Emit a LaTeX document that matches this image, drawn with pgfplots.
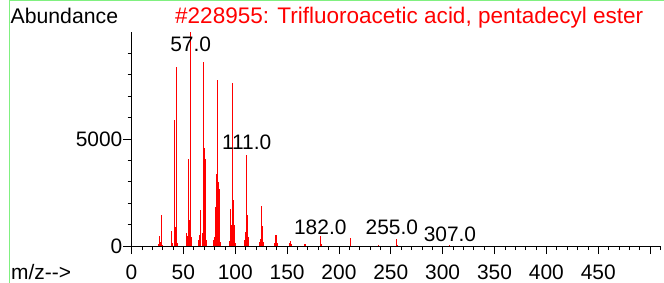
\documentclass[border=0pt]{standalone}
\usepackage{fontspec}
\setmainfont{Liberation Sans}
\usepackage{pgfplots}
\pgfplotsset{compat=1.18}
\definecolor{framegreen}{RGB}{128,240,128}
\definecolor{peakred}{RGB}{255,0,0}
\newcommand{\lblfont}{\fontsize{21}{25}\selectfont}
\begin{document}
\begin{tikzpicture}
\useasboundingbox (0,0) rectangle (664bp,283bp);
\draw[framegreen, line width=1.5bp] (9.5bp,0bp) -- (9.5bp,282.3bp) -- (664bp,282.3bp);
\node[anchor=base west, inner sep=0pt, font=\fontsize{21.3}{25}\selectfont] at (10.5bp,259bp) {Abundance};
\node[anchor=base west, inner sep=0pt, font=\fontsize{22.6}{26}\selectfont, text=peakred] at (175bp,259bp) {\#228955: Trifluoroacetic acid, pentadecyl ester};
\node[anchor=base west, inner sep=0pt, font=\lblfont] at (11bp,4bp) {m/z-{}-{}>};
\begin{axis}[
  at={(131.5bp,37bp)}, anchor=south west,
  scale only axis, width=529bp, height=214bp,
  xmin=0, xmax=510, ymin=0, ymax=10000,
  axis x line=bottom, axis y line=left,
  axis line style={-, line width=0.8bp, black},
  clip=false,
  scaled y ticks=false, scaled x ticks=false,
  tick align=outside,
  major tick length=8bp, minor tick length=4bp,
  every tick/.style={black, line width=0.7bp},
  xtick={0,50,...,500},
  xticklabels={0,50,100,150,200,250,300,350,400,450,{}},
  minor xtick={10,20,...,510},
  ytick={0,5000},
  yticklabels={0,5000},
  minor ytick={1000,2000,3000,4000,6000,7000,8000,9000},
  xticklabel style={inner sep=0pt, anchor=north, font=\lblfont, yshift=-11bp},
  yticklabel style={inner sep=0pt, anchor=east, font=\lblfont, xshift=-1bp},
]
\addplot[ycomb, peakred, line width=1bp, mark=none] coordinates {
(26,100) (27,480) (28,200) (29,1430) (30,60)
(39,690) (40,150) (41,5900) (42,900) (43,8370) (44,150)
(53,600) (54,480) (55,4050) (56,1200) (57,9999) (58,400)
(65,300) (66,500) (67,1660) (68,600) (69,8600) (70,4590) (71,4050) (72,300)
(79,300) (80,400) (81,1800) (82,3360) (83,7780) (84,2970) (85,2660) (86,200)
(94,250) (95,1740) (96,1000) (97,7600) (98,2130) (99,1000) (100,150)
(109,300) (110,660) (111,4250) (112,1430) (113,400)
(123,200) (124,350) (125,1850) (126,920) (127,200)
(138,150) (139,510) (140,510) (141,150)
(152,120) (153,215) (154,100)
(167,80) (168,110)
(182,460) (183,80)
(211,355)
(238,40)
(255,310) (256,50)
(307,40)
};
\node[anchor=base, inner sep=0pt, font=\lblfont] at (axis cs:57,9110) {57.0};
\node[anchor=base, inner sep=0pt, font=\lblfont] at (axis cs:111,4520) {111.0};
\node[anchor=base, inner sep=0pt, font=\lblfont] at (axis cs:182,560) {182.0};
\node[anchor=base, inner sep=0pt, font=\lblfont] at (axis cs:251,515) {255.0};
\node[anchor=base, inner sep=0pt, font=\lblfont] at (axis cs:307,190) {307.0};
\end{axis}
\end{tikzpicture}
\end{document}
